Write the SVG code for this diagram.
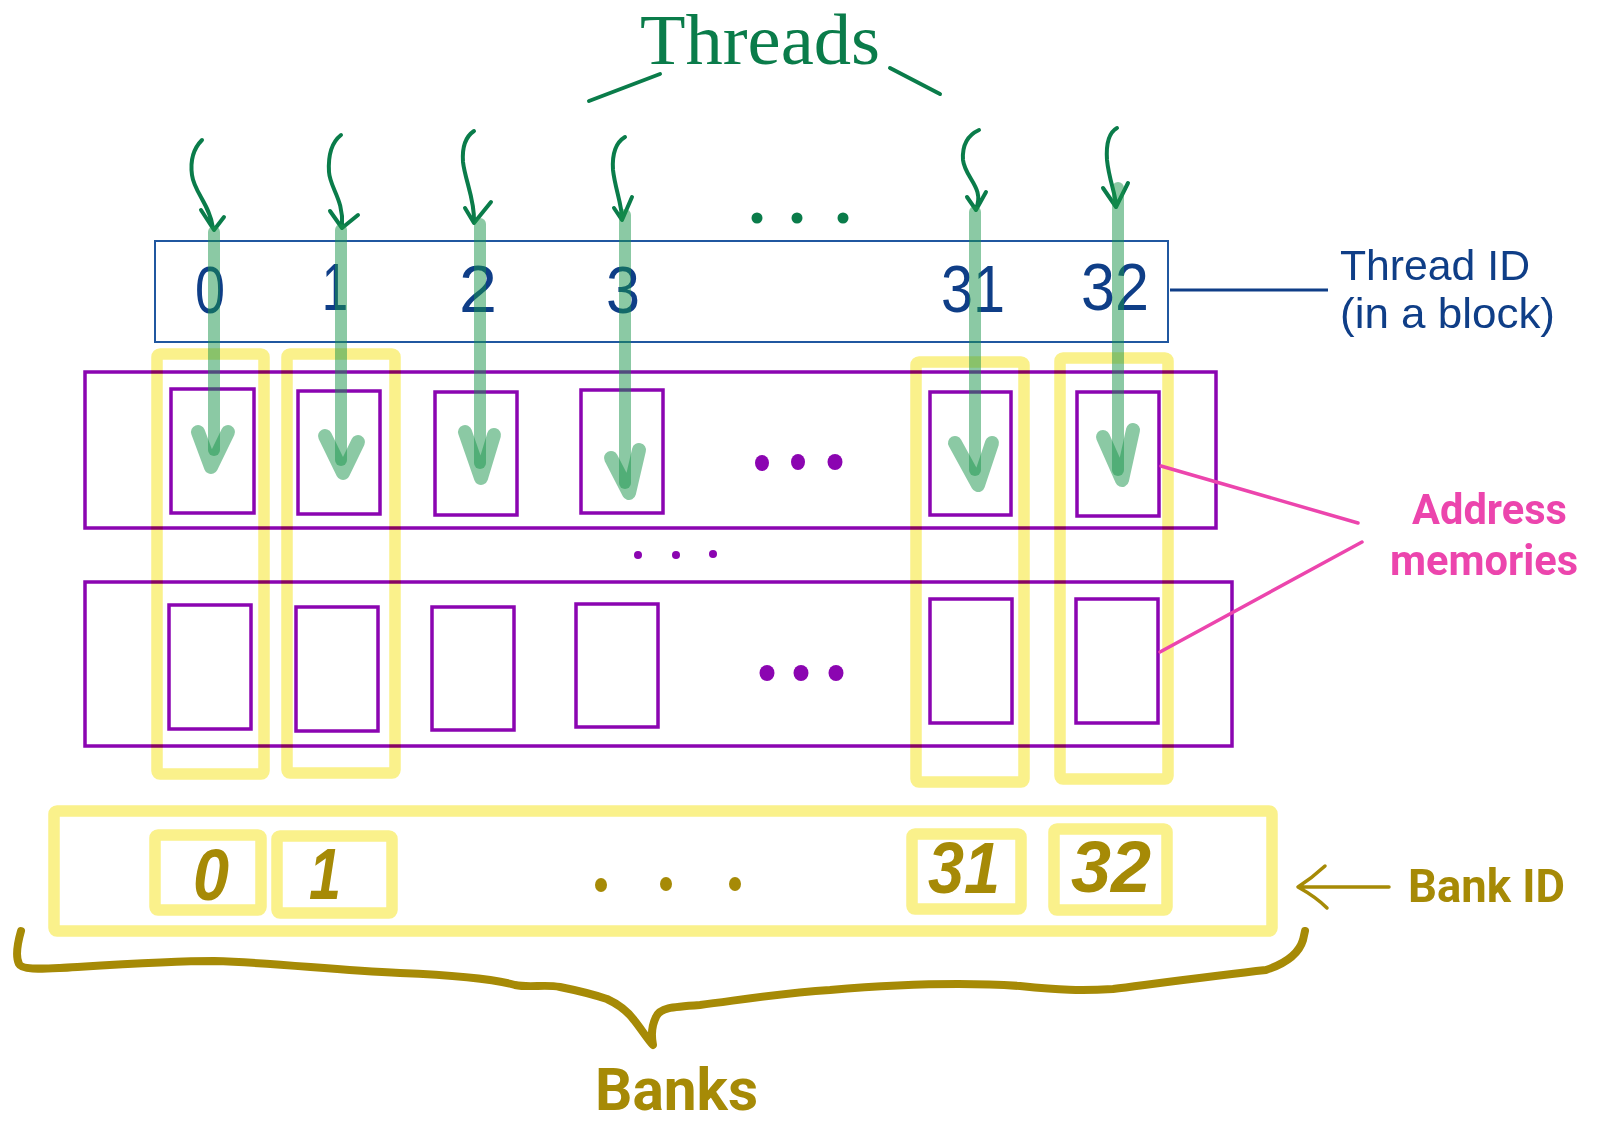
<svg xmlns="http://www.w3.org/2000/svg" width="1602" height="1137" viewBox="0 0 1602 1137">
<defs>
<style>
.gd{fill:none;stroke:#0a7c4a;stroke-width:4;stroke-linecap:round;stroke-linejoin:round}
.gb{fill:none;stroke:#17934a;stroke-width:12;stroke-linecap:round;opacity:.5}
.gv{fill:none;stroke:#17934a;stroke-width:14;stroke-linecap:round;stroke-linejoin:round;opacity:.5}
.pu{fill:none;stroke:#8b05b1;stroke-width:3.5}
.ye{fill:none;stroke:#faf18b;stroke-width:11.5;stroke-linejoin:round;mix-blend-mode:multiply}
.pk{fill:none;stroke:#ec45ad;stroke-width:3.5;stroke-linecap:round}
.tdig{font-family:"Liberation Sans",Arial,sans-serif;font-size:66px;fill:#0f3e87;text-anchor:middle}
.bdig{font-family:"Liberation Sans",Arial,sans-serif;font-size:72px;font-weight:bold;font-style:italic;fill:#a68a06;text-anchor:middle}
.ol{fill:#a68a06}
.olt{font-family:Roboto,"Liberation Sans",sans-serif;font-weight:bold;fill:#a68a06}
.pkt{font-family:Roboto,"Liberation Sans",sans-serif;font-weight:bold;font-size:42px;fill:#ec45ad}
.blt{font-family:"Liberation Sans",Arial,sans-serif;font-size:43px;fill:#0f3e87}
</style>
</defs>
<rect width="1602" height="1137" fill="#ffffff"/>

<g id="threads-title">
<text x="640" y="64" font-family="Liberation Serif,serif" font-size="72" fill="#0a7c4a" textLength="240" lengthAdjust="spacingAndGlyphs">Threads</text>
<line class="gd" x1="589" y1="101" x2="660" y2="74"/>
<line class="gd" x1="890" y1="68" x2="940" y2="94"/>
<circle cx="757" cy="218" r="5.5" fill="#0a7c4a"/>
<circle cx="797" cy="218" r="5.5" fill="#0a7c4a"/>
<circle cx="843" cy="218" r="5.5" fill="#0a7c4a"/>
</g>

<g id="memory-rows">
<rect class="pu" x="85" y="372" width="1131" height="156"/>
<rect class="pu" x="85" y="582" width="1147" height="164"/>
<rect class="pu" x="171" y="389" width="83" height="124"/>
<rect class="pu" x="298" y="391" width="82" height="123"/>
<rect class="pu" x="435" y="392" width="82" height="123"/>
<rect class="pu" x="581" y="390" width="82" height="123"/>
<rect class="pu" x="930" y="392" width="81" height="123"/>
<rect class="pu" x="1077" y="392" width="82" height="124"/>
<rect class="pu" x="169" y="605" width="82" height="124"/>
<rect class="pu" x="296" y="607" width="82" height="124"/>
<rect class="pu" x="432" y="607" width="82" height="123"/>
<rect class="pu" x="576" y="604" width="82" height="123"/>
<rect class="pu" x="930" y="599" width="82" height="124"/>
<rect class="pu" x="1076" y="599" width="82" height="124"/>
<g fill="#8b05b1">
<ellipse cx="762" cy="463" rx="7" ry="8"/>
<ellipse cx="798" cy="462" rx="7" ry="8"/>
<ellipse cx="835" cy="462" rx="7.5" ry="8"/>
<ellipse cx="767" cy="673" rx="7.5" ry="8"/>
<ellipse cx="801" cy="673" rx="7.5" ry="8"/>
<ellipse cx="836" cy="673" rx="7.5" ry="8"/>
<circle cx="638" cy="555" r="4"/>
<circle cx="676" cy="555" r="4"/>
<circle cx="713" cy="554" r="4"/>
</g>
</g>

<g id="bank-columns">
<rect class="ye" x="157" y="354" width="107" height="420" rx="3"/>
<rect class="ye" x="287" y="354" width="108" height="419" rx="3"/>
<rect class="ye" x="916" y="362" width="108" height="420" rx="3"/>
<rect class="ye" x="1060" y="358" width="108" height="421" rx="3"/>
</g>

<g id="bank-row">
<rect class="ye" x="54" y="811" width="1218" height="120" rx="3"/>
<rect class="ye" x="155" y="835" width="106" height="75" rx="3"/>
<rect class="ye" x="277" y="836" width="115" height="77" rx="3"/>
<rect class="ye" x="912" y="834" width="109" height="75" rx="3"/>
<rect class="ye" x="1054" y="829" width="113" height="81" rx="3"/>
<text class="bdig" x="211" y="900" textLength="36" lengthAdjust="spacingAndGlyphs">0</text>
<text class="bdig" x="325" y="899" textLength="32" lengthAdjust="spacingAndGlyphs">1</text>
<text class="bdig" x="964" y="893" textLength="72" lengthAdjust="spacingAndGlyphs">31</text>
<text class="bdig" x="1111" y="892" textLength="80" lengthAdjust="spacingAndGlyphs">32</text>
<ellipse class="ol" cx="601" cy="885" rx="6" ry="7"/>
<ellipse class="ol" cx="666" cy="884" rx="6" ry="7"/>
<ellipse class="ol" cx="735" cy="884" rx="6" ry="7"/>
</g>

<g id="thread-id">
<rect x="155" y="241" width="1013" height="101" fill="none" stroke="#2057a0" stroke-width="2"/>
<text class="tdig" x="210" y="313" textLength="30" lengthAdjust="spacingAndGlyphs">0</text>
<text class="tdig" x="335" y="310" textLength="26" lengthAdjust="spacingAndGlyphs">1</text>
<text class="tdig" x="478" y="312" textLength="38" lengthAdjust="spacingAndGlyphs">2</text>
<text class="tdig" x="623" y="313" textLength="34" lengthAdjust="spacingAndGlyphs">3</text>
<text class="tdig" x="973" y="312" textLength="64" lengthAdjust="spacingAndGlyphs">31</text>
<text class="tdig" x="1115" y="310" textLength="68" lengthAdjust="spacingAndGlyphs">32</text>
</g>

<g id="labels">
<text class="blt" x="1340" y="280" textLength="190" lengthAdjust="spacingAndGlyphs">Thread ID</text>
<text class="blt" x="1340" y="328" textLength="215" lengthAdjust="spacingAndGlyphs">(in a block)</text>
<text class="pkt" x="1412" y="524" textLength="155" lengthAdjust="spacingAndGlyphs">Address</text>
<text class="pkt" x="1390" y="575" textLength="188" lengthAdjust="spacingAndGlyphs">memories</text>
<text class="olt" x="1408" y="902" font-size="46" textLength="157" lengthAdjust="spacingAndGlyphs">Bank ID</text>
<text class="olt" x="595" y="1110" font-size="60" textLength="163" lengthAdjust="spacingAndGlyphs">Banks</text>
</g>

<g id="connectors">
<line x1="1170" y1="290" x2="1328" y2="290" stroke="#0f3e87" stroke-width="3"/>
<line class="pk" x1="1161" y1="466" x2="1358" y2="523"/>
<line class="pk" x1="1160" y1="652" x2="1362" y2="542"/>
<path d="M1389,887 L1300,887 M1325,866 Q1312,878 1298,887 Q1316,897 1327,908" fill="none" stroke="#a68a06" stroke-width="3.5" stroke-linecap="round" stroke-linejoin="round"/>
<path d="M21,931 C17,945 16,958 19,964 C22,970 40,969 60,968 C110,965 170,961 214,961 C280,963 330,970 400,973 C450,975 490,978 515,985 C530,988 545,984 560,987 C580,991 595,995 607,999 C620,1005 628,1012 634,1020 C642,1030 648,1040 653,1045 C651,1035 652,1025 656,1017 C660,1008 670,1007 700,1005 C740,1000 780,993 830,990 C890,985 960,982 1020,986 C1060,990 1080,991 1113,989 C1160,983 1220,975 1266,970 C1290,962 1300,950 1303,940 L1305,931" fill="none" stroke="#a68a06" stroke-width="8" stroke-linecap="round" stroke-linejoin="round"/>
<path class="gd" d="M202,140 C194,148 190,160 192,175 C194,192 210,205 213,228 M201,210 L214,230 L224,217"/>
<path class="gd" d="M341,135 C332,142 328,155 329,172 C330,188 344,200 342,226 M330,211 L342,228 L358,215"/>
<path class="gd" d="M474,131 C465,137 462,148 463,162 C465,180 475,200 474,222 M465,208 L474,223 L491,202"/>
<path class="gd" d="M625,137 C615,143 612,155 613,170 C615,188 622,205 622,219 M614,208 L622,220 L632,197"/>
<path class="gd" d="M979,130 C968,135 962,145 963,160 C965,178 985,188 976,209 M967,197 L976,210 L986,192"/>
<path class="gd" d="M1117,128 C1108,133 1106,145 1107,160 C1109,180 1116,195 1116,206 M1103,188 L1116,207 L1128,183"/>
<line class="gb" x1="214" y1="232" x2="214" y2="450"/>
<polyline class="gv" points="198,432 211,467 228,432"/>
<line class="gb" x1="341" y1="230" x2="341" y2="460"/>
<polyline class="gv" points="325,436 343,473 358,442"/>
<line class="gb" x1="480" y1="224" x2="480" y2="463"/>
<polyline class="gv" points="465,432 481,478 494,435"/>
<line class="gb" x1="625" y1="215" x2="625" y2="483"/>
<polyline class="gv" points="611,458 629,493 639,450"/>
<line class="gb" x1="975" y1="212" x2="975" y2="470"/>
<polyline class="gv" points="955,443 978,485 992,443"/>
<line class="gb" x1="1118" y1="188" x2="1118" y2="470"/>
<polyline class="gv" points="1103,437 1122,480 1133,430"/>
</g>
</svg>
